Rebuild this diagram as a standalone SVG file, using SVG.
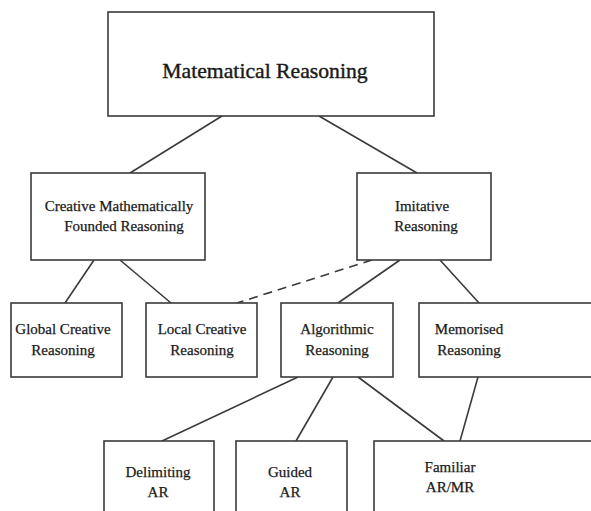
<svg xmlns="http://www.w3.org/2000/svg" width="591" height="511" viewBox="0 0 591 511">
<style>
.box{fill:#fff;stroke:#3a3a3a;stroke-width:1.6}
.ln{stroke:#3a3a3a;stroke-width:1.6;fill:none}
.dash{stroke:#3a3a3a;stroke-width:1.6;fill:none;stroke-dasharray:9 6}
text{font-family:"Liberation Serif","DejaVu Serif","Times New Roman",serif;font-size:15px;fill:#1a1a1a;stroke:#1a1a1a;stroke-width:0.25;text-anchor:middle}
.title{font-size:21.7px;stroke-width:0.4}
</style>
<rect width="591" height="511" fill="#fff"/>
<g id="connectors">
<line class="ln" x1="222" y1="116" x2="130" y2="173"/>
<line class="ln" x1="319" y1="116" x2="417" y2="173"/>
<line class="ln" x1="94" y1="260" x2="65" y2="303"/>
<line class="ln" x1="120" y1="260" x2="171" y2="303"/>
<line class="dash" x1="372" y1="260" x2="237" y2="303"/>
<line class="ln" x1="400" y1="260" x2="338" y2="303"/>
<line class="ln" x1="440" y1="260" x2="479" y2="303"/>
<line class="ln" x1="298" y1="377" x2="162" y2="441"/>
<line class="ln" x1="333" y1="377" x2="296" y2="441"/>
<line class="ln" x1="358" y1="377" x2="444" y2="441"/>
<line class="ln" x1="478" y1="377" x2="460" y2="441"/>
</g>
<g id="n-math">
<rect class="box" x="108" y="12" width="326" height="104"/>
<text class="title" x="265" y="78">Matematical Reasoning</text>
</g>
<g id="n-creative">
<rect class="box" x="31" y="173" width="174" height="87"/>
<text x="119" y="211">Creative Mathematically</text>
<text x="124" y="231">Founded Reasoning</text>
</g>
<g id="n-imitative">
<rect class="box" x="357" y="173" width="134" height="87"/>
<text x="422" y="211">Imitative</text>
<text x="426" y="231">Reasoning</text>
</g>
<g id="n-global">
<rect class="box" x="11" y="303" width="111" height="74"/>
<text x="63" y="334">Global Creative</text>
<text x="63" y="355">Reasoning</text>
</g>
<g id="n-local">
<rect class="box" x="146" y="303" width="111" height="74"/>
<text x="202" y="334">Local Creative</text>
<text x="202" y="355">Reasoning</text>
</g>
<g id="n-algorithmic">
<rect class="box" x="281" y="303" width="112" height="74"/>
<text x="337" y="334">Algorithmic</text>
<text x="337" y="355">Reasoning</text>
</g>
<g id="n-memorised">
<rect class="box" x="419" y="303" width="190" height="74"/>
<text x="469" y="334">Memorised</text>
<text x="469" y="355">Reasoning</text>
</g>
<g id="n-delimiting">
<rect class="box" x="104" y="441" width="110" height="90"/>
<text x="158" y="477">Delimiting</text>
<text x="158" y="497">AR</text>
</g>
<g id="n-guided">
<rect class="box" x="236" y="441" width="111" height="90"/>
<text x="290" y="477">Guided</text>
<text x="290" y="497">AR</text>
</g>
<g id="n-familiar">
<rect class="box" x="374" y="441" width="240" height="90"/>
<text x="450" y="472">Familiar</text>
<text x="450" y="492">AR/MR</text>
</g>
</svg>
